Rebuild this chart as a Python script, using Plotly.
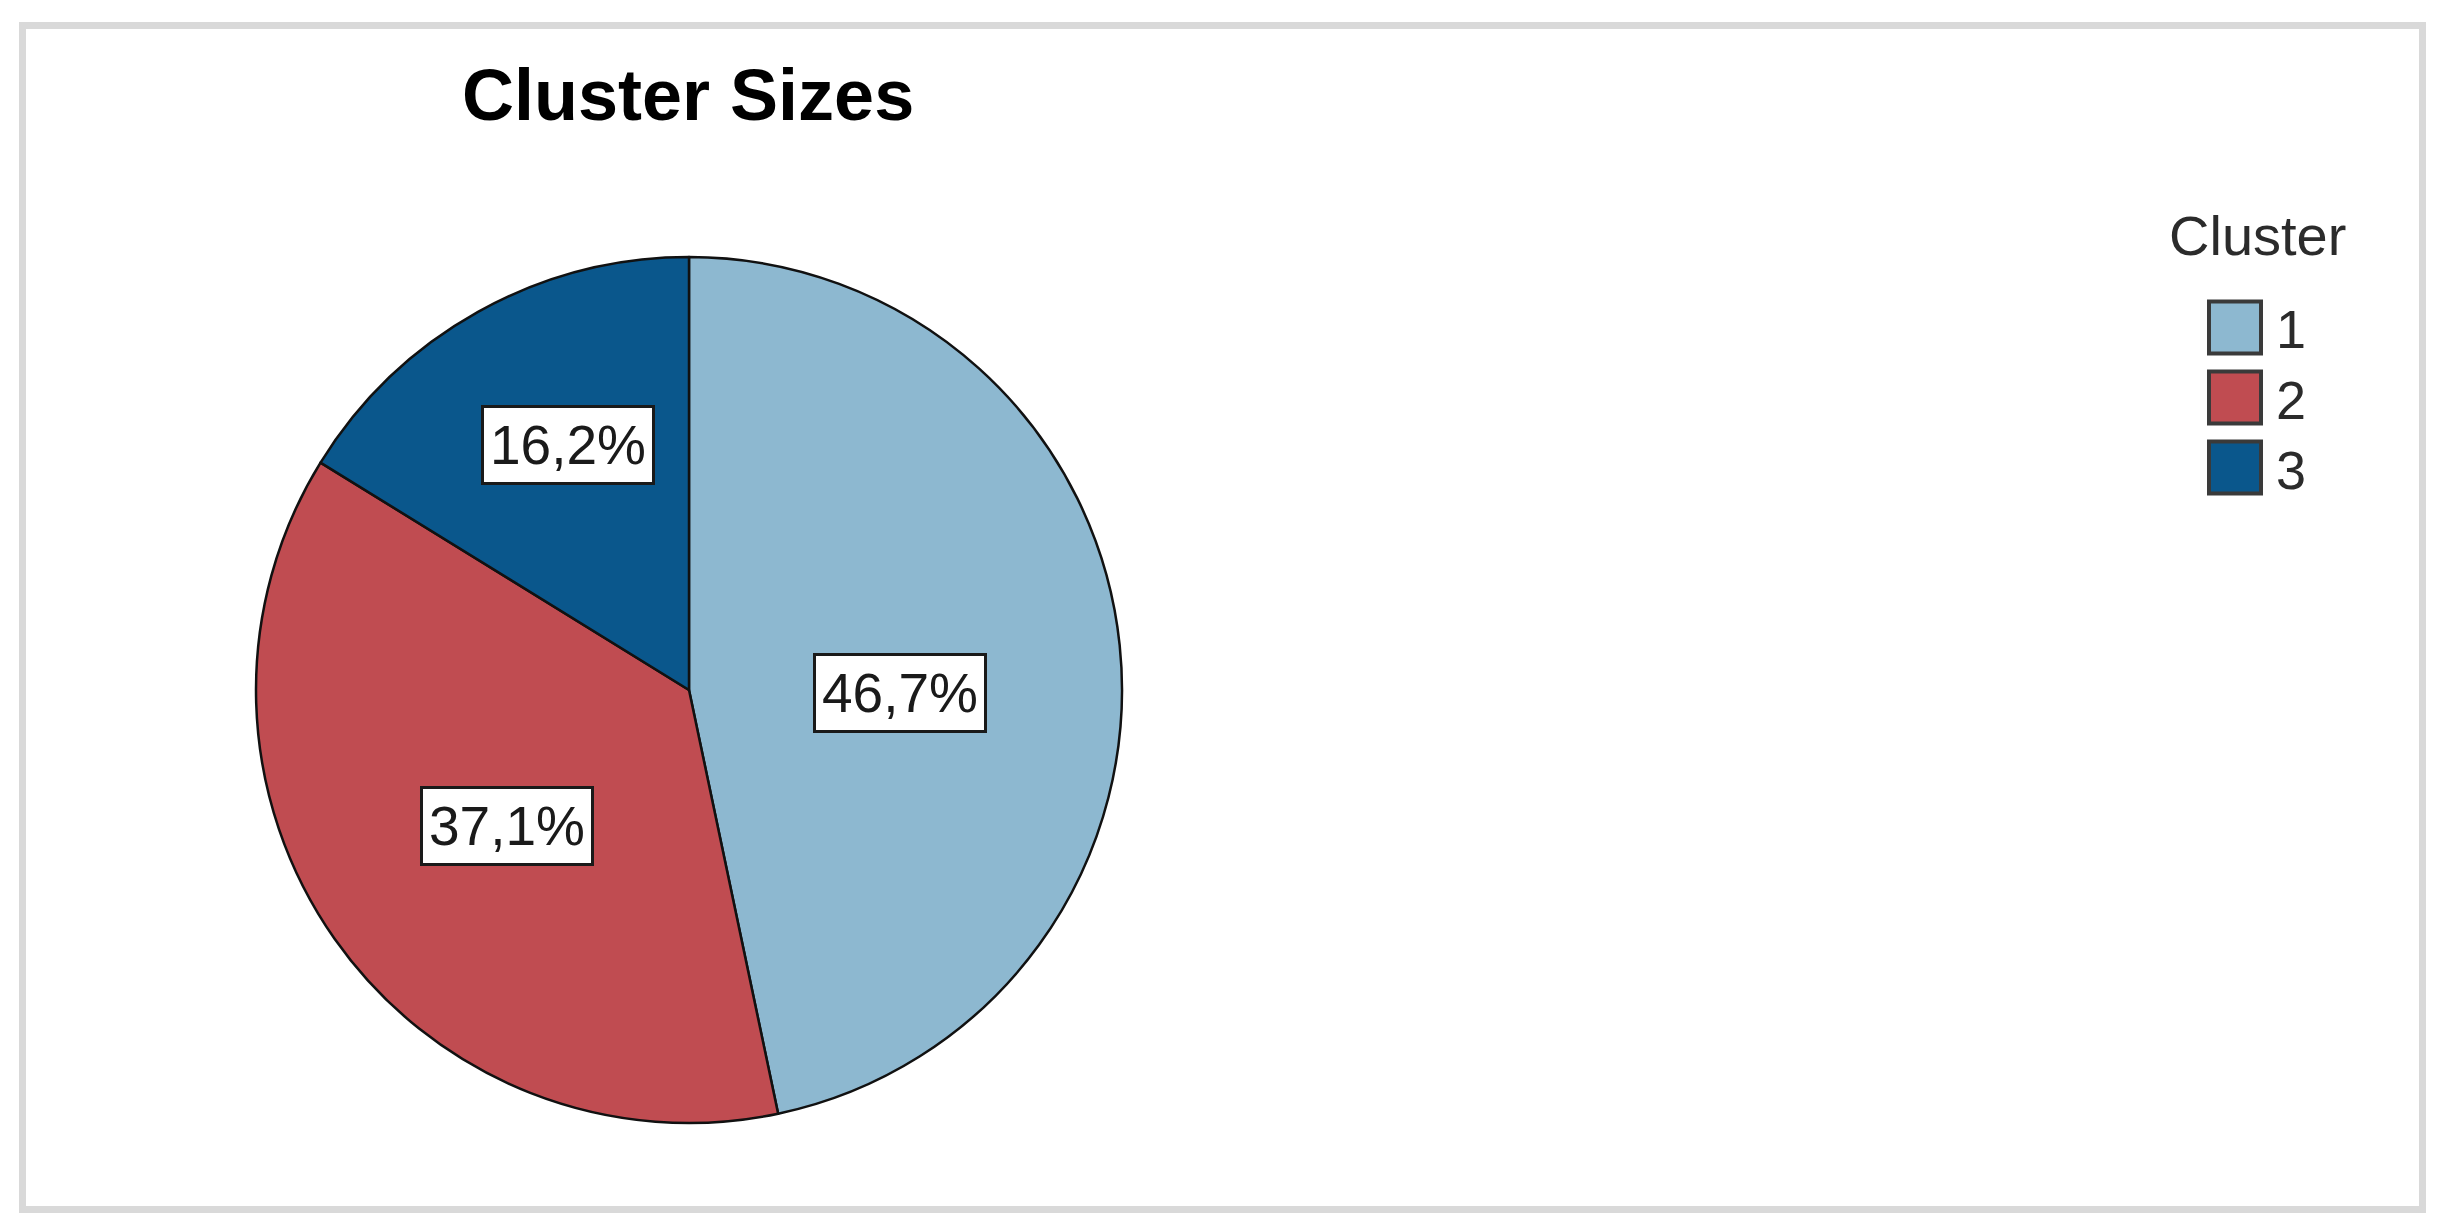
import math
import plotly.graph_objects as go

# ---- data ----
clusters = ["1", "2", "3"]
percentages = [46.7, 37.1, 16.2]
colors = ["#8DB8D0", "#C04C51", "#0A578C"]
title_text = "Cluster Sizes"
legend_title = "Cluster"

# ---- geometry (page pixels; body has 8px margin) ----
W, H = 2425, 1210
OFF = 8


def px(x):
    return (x - OFF) / W


def py(y):
    return 1 - (y - OFF) / H


cx, cy, R = 689, 690, 433  # pie centre/radius in page pixels
# small pixel nudges of the label boxes away from the exact sector centroid
label_nudge = [(16, 23), (4, 5), (14, -4)]

fig = go.Figure()
fig.add_trace(go.Pie(
    labels=clusters,
    values=percentages,
    marker=dict(colors=colors, line=dict(color="#111111", width=2.5)),
    sort=False,
    direction="clockwise",
    rotation=0,
    textinfo="none",
    hoverinfo="label+percent",
    showlegend=False,
    domain=dict(x=[px(cx - R), px(cx + R)], y=[py(cy + R), py(cy - R)]),
))

annotations = []
# slice labels at sector centroids
total = sum(percentages)
start = 0.0
for v, (nx, ny) in zip(percentages, label_nudge):
    span = v / total * 2 * math.pi
    mid = start + span / 2
    a = span / 2
    d = R * 2 * math.sin(a) / (3 * a)
    lx = cx + d * math.sin(mid) + nx
    ly = cy - d * math.cos(mid) + ny
    annotations.append(dict(
        x=px(lx), y=py(ly), xref="paper", yref="paper",
        text=f"{v:.1f}".replace(".", ",") + "%",
        showarrow=False,
        font=dict(family="Liberation Sans, Arial, sans-serif", size=55, color="#1a1a1a"),
        bgcolor="#ffffff", bordercolor="#1a1a1a", borderwidth=3, borderpad=6,
        xanchor="center", yanchor="middle",
    ))
    start += span

# title
annotations.append(dict(
    x=px(688), y=py(95), xref="paper", yref="paper",
    text=f"<b>{title_text}</b>", showarrow=False,
    font=dict(family="Liberation Sans, Arial, sans-serif", size=72, color="#000000"),
    xanchor="center", yanchor="middle",
))

# legend (custom, large swatches)
annotations.append(dict(
    x=px(2257), y=py(236), xref="paper", yref="paper",
    text=legend_title, showarrow=False,
    font=dict(family="Liberation Sans, Arial, sans-serif", size=56, color="#2b2b2b"),
    xanchor="center", yanchor="middle",
))

shapes = []
sw_x0, sw_x1 = 2209, 2261
for i, (lab, col) in enumerate(zip(clusters, colors)):
    yc = 327.5 + 70 * i
    shapes.append(dict(
        type="rect", xref="paper", yref="paper",
        x0=px(sw_x0), x1=px(sw_x1), y0=py(yc + 26), y1=py(yc - 26),
        fillcolor=col, line=dict(color="#3a3a3a", width=4),
    ))
    annotations.append(dict(
        x=px(2274), y=py(yc + 2), xref="paper", yref="paper",
        text=lab, showarrow=False,
        font=dict(family="Liberation Sans, Arial, sans-serif", size=54, color="#2b2b2b"),
        xanchor="left", yanchor="middle",
    ))

# outer gray frame
shapes.append(dict(
    type="rect", xref="paper", yref="paper",
    x0=px(22.5), x1=px(2422.5), y0=py(1209.5), y1=py(25.5),
    line=dict(color="#d9d9d9", width=7), fillcolor="rgba(0,0,0,0)",
))

fig.update_layout(
    width=W, height=H,
    margin=dict(l=0, r=0, t=0, b=0),
    paper_bgcolor="#ffffff", plot_bgcolor="#ffffff",
    annotations=annotations, shapes=shapes,
    showlegend=False,
)

fig.write_html("out.html")
